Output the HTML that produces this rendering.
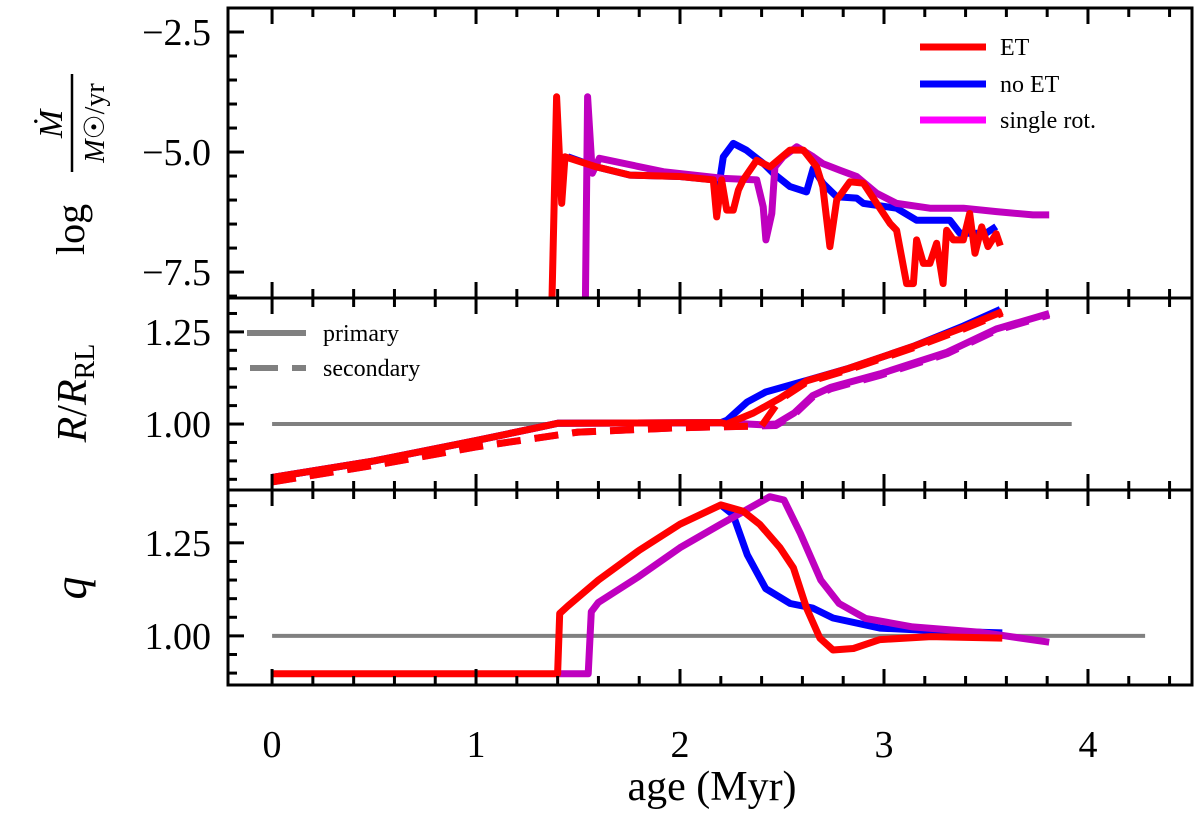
<!DOCTYPE html>
<html><head><meta charset="utf-8"><style>
body{margin:0;background:#fff}
svg text{font-family:"Liberation Serif",serif;fill:#000}
</style></head><body>
<svg id="c" width="1200" height="821" viewBox="0 0 1200 821" xmlns="http://www.w3.org/2000/svg"></svg>
<script>
// ---- data ----
const xTicks=[0,1,2,3,4];
const topTicks=[-2.5,-5.0,-7.5];
const midTicks=[1.00,1.25];
const botTicks=[1.00,1.25];
const mdotEtAge=[1.37,1.395,1.42,1.436,1.59,1.755,2.0,2.163,2.18,2.204,2.229,2.261,2.286,2.31,2.376,2.441,2.539,2.605,2.67,2.70,2.735,2.768,2.833,2.899,2.964,3.03,3.062,3.111,3.144,3.16,3.193,3.225,3.258,3.29,3.307,3.34,3.389,3.42,3.446,3.479,3.51,3.55,3.57];
const mdotEtVal=[-8.5,-3.85,-6.07,-5.10,-5.31,-5.48,-5.51,-5.58,-6.35,-5.58,-6.21,-6.21,-5.79,-5.58,-5.17,-5.31,-4.96,-4.96,-5.31,-5.72,-6.97,-6.0,-5.62,-5.65,-6.07,-6.49,-6.63,-7.74,-7.74,-6.83,-7.32,-7.32,-6.90,-7.74,-6.63,-6.83,-6.83,-6.28,-7.11,-6.56,-6.97,-6.7,-6.95];
const mdotNoEtAge=[1.45,1.59,1.755,2.0,2.17,2.19,2.212,2.261,2.325,2.41,2.457,2.539,2.62,2.653,2.70,2.768,2.866,2.899,3.062,3.16,3.323,3.372,3.5,3.55];
const mdotNoEtVal=[-5.10,-5.31,-5.48,-5.51,-5.58,-5.72,-5.10,-4.82,-4.96,-5.24,-5.44,-5.72,-5.83,-5.34,-5.65,-5.93,-5.96,-6.07,-6.17,-6.42,-6.42,-6.69,-6.69,-6.55];
const mdotSingleAge=[1.535,1.547,1.57,1.605,1.918,2.212,2.376,2.408,2.421,2.45,2.465,2.506,2.572,2.653,2.70,2.784,2.866,2.964,3.062,3.225,3.39,3.552,3.73,3.81];
const mdotSingleVal=[-8.5,-3.85,-5.44,-5.13,-5.41,-5.55,-5.58,-6.14,-6.83,-6.28,-5.31,-5.10,-4.89,-5.10,-5.24,-5.38,-5.51,-5.86,-6.07,-6.17,-6.17,-6.24,-6.31,-6.31];
const rPrimAge=[0,0.5,1.0,1.3,1.4,2.2];
const rPrimVal=[0.855,0.90,0.955,0.99,1.002,1.004];
const rSecAge=[0,0.5,1.0,1.5,2.0,2.4];
const rSecVal=[0.843,0.888,0.938,0.978,0.99,0.995];
const rEtAge=[2.23,2.36,2.49,2.62,2.82,3.14,3.39,3.58];
const rEtVal=[1.0,1.03,1.07,1.117,1.15,1.21,1.262,1.305];
const rNoEtAge=[2.2,2.23,2.33,2.42,2.62,2.82,3.14,3.39,3.57];
const rNoEtVal=[1.004,1.01,1.06,1.087,1.118,1.15,1.21,1.266,1.311];
const rSingleAge=[2.4,2.47,2.56,2.65,2.74,2.98,3.31,3.55,3.81];
const rSingleVal=[0.998,1.0,1.03,1.077,1.1,1.136,1.195,1.258,1.30];
const qEtAge=[0,1.40,1.41,1.45,1.6,1.8,2.0,2.2,2.31,2.39,2.49,2.556,2.62,2.686,2.75,2.85,2.98,3.23,3.58];
const qEtVal=[0.898,0.898,1.06,1.08,1.15,1.23,1.30,1.352,1.335,1.30,1.237,1.183,1.075,0.994,0.962,0.966,0.99,0.998,0.994];
const qNoEtAge=[2.2,2.26,2.33,2.42,2.54,2.65,2.75,2.98,3.31,3.58];
const qNoEtVal=[1.352,1.326,1.218,1.127,1.087,1.075,1.048,1.021,1.012,1.008];
const qSingleAge=[1.40,1.55,1.565,1.6,1.8,2.0,2.2,2.44,2.51,2.59,2.69,2.78,2.91,3.14,3.47,3.81];
const qSingleVal=[0.898,0.898,1.065,1.09,1.16,1.237,1.30,1.374,1.365,1.275,1.15,1.087,1.047,1.024,1.01,0.983];
const refLineEnd=[3.92,4.28];

// ---- layout ----
const L=228,R=1192,X0=-0.216,X1=4.51;
const P=[{t:8,b:298,y0:-8.04,y1:-2.0},{t:298,b:490,y0:0.821,y1:1.342},{t:490,b:685,y0:0.868,y1:1.392}];
const sx=v=>L+(v-X0)/(X1-X0)*(R-L);
const sy=(p,v)=>P[p].b-(v-P[p].y0)/(P[p].y1-P[p].y0)*(P[p].b-P[p].t);
const svg=document.getElementById('c');
const NS='http://www.w3.org/2000/svg';
function mk(tag,at,parent){const e=document.createElementNS(NS,tag);for(const k in at)e.setAttribute(k,at[k]);(parent||svg).appendChild(e);return e;}
const defs=mk('defs',{});
P.forEach((p,i)=>{const c=mk('clipPath',{id:'cp'+i},defs);mk('rect',{x:L,y:p.t,width:R-L,height:p.b-p.t},c);});
function line(p,xs,ys,color,name,dash,w){
  const d=xs.map((x,i)=>(i?'L':'M')+sx(x).toFixed(1)+','+sy(p,ys[i]).toFixed(1)).join('');
  const e=mk('path',{d:d,fill:'none',stroke:color,'stroke-width':w||7,'stroke-linejoin':'round','clip-path':'url(#cp'+p+')'});
  if(dash)e.setAttribute('stroke-dasharray',dash);
  
  
  return e;
}
const RED='#ff0000',BLUE='#0000ff',PUR='#bf00bf',GR='#808080';
line(0,mdotNoEtAge,mdotNoEtVal,BLUE,'mdot-no-et-line');
line(0,mdotSingleAge,mdotSingleVal,PUR,'mdot-single-rot-line');
line(0,mdotEtAge,mdotEtVal,RED,'mdot-et-line');
line(1,[0,refLineEnd[0]],[1,1],GR,'r-unity-line',null,4);
line(1,rSecAge.concat(rSingleAge.slice(1)),rSecVal.concat(rSingleVal.slice(1).map(v=>v-0.004)),PUR,'r-single-secondary','24 14');
line(1,rPrimAge.concat(rSingleAge),rPrimVal.concat(rSingleVal),PUR,'r-single-primary');
line(1,rPrimAge.concat(rNoEtAge),rPrimVal.concat(rNoEtVal),BLUE,'r-no-et-primary');
line(1,rSecAge.concat(rEtAge.slice(2)),rSecVal.concat(rEtVal.slice(2).map(v=>v-0.004)),RED,'r-et-secondary','24 14');
line(1,rPrimAge.concat(rEtAge),rPrimVal.concat(rEtVal),RED,'r-et-primary');
line(2,[0,refLineEnd[1]],[1,1],GR,'q-unity-line',null,4);
line(2,qNoEtAge,qNoEtVal,BLUE,'q-no-et-line');
line(2,qSingleAge,qSingleVal,PUR,'q-single-rot-line');
line(2,qEtAge,qEtVal,RED,'q-et-line');

const ax=mk('g',{stroke:'#000','stroke-width':3,fill:'none'});


P.forEach((p,i)=>{
  mk('rect',{x:L,y:p.t,width:R-L,height:p.b-p.t},ax);
  for(let k=0;k<=22;k++){const v=Math.round(k*2)/10;if(v>X1)break;const X=sx(v);const maj=(k%5===0);const len=maj?16:9;
    mk('line',{x1:X,y1:p.b,x2:X,y2:p.b-len},ax);mk('line',{x1:X,y1:p.t,x2:X,y2:p.t+len},ax);}
  const step=i===0?0.5:0.05;const majStep=i===0?2.5:0.25;
  for(let v=Math.ceil(p.y0/step)*step;v<=p.y1+1e-9;v+=step){const Y=sy(i,v);const maj=Math.abs(v/majStep-Math.round(v/majStep))<1e-6;
    mk('line',{x1:L,y1:Y,x2:L+(maj?16:9),y2:Y},ax);}
});
xTicks.forEach(v=>{const t=mk('text',{x:sx(v),y:757,'font-size':38,'text-anchor':'middle'});t.textContent=v;});
function ylab(p,arr,fmt){arr.forEach(v=>{const t=mk('text',{x:211,y:sy(p,v)+13,'font-size':38,'text-anchor':'end'});t.textContent=fmt(v);});}
ylab(0,topTicks,v=>(v<0?'\u2212':'')+Math.abs(v).toFixed(1));
ylab(1,midTicks,v=>v.toFixed(2));
ylab(2,botTicks,v=>v.toFixed(2));
</script>
<svg width="1200" height="821" style="position:absolute;left:0;top:0" xmlns="http://www.w3.org/2000/svg">
<text x="712" y="800" font-size="42" text-anchor="middle">age (Myr)</text>
<g transform="translate(72,160) rotate(-90)">
 <text x="-95" y="12" font-size="40">log</text>
 <text x="36" y="-10" font-size="34" font-style="italic" text-anchor="middle">Ṁ</text>
 <line x1="-12" y1="0" x2="86" y2="0" stroke="#000" stroke-width="2.5"/>
 <text x="37" y="32" font-size="28" text-anchor="middle"><tspan font-style="italic">M</tspan>☉/yr</text>
</g>
<text transform="translate(86,393) rotate(-90)" font-size="42" text-anchor="middle"><tspan font-style="italic">R</tspan>/<tspan font-style="italic">R</tspan><tspan font-size="28" dy="8">RL</tspan></text>
<text transform="translate(86,588) rotate(-90)" font-size="46" font-style="italic" text-anchor="middle">q</text>
<g>
 <line x1="920" y1="47" x2="986" y2="47" stroke="#ff0000" stroke-width="7"/><text x="1000" y="55" font-size="24">ET</text>
 <line x1="920" y1="84" x2="986" y2="84" stroke="#0000ff" stroke-width="7"/><text x="1000" y="92" font-size="24">no ET</text>
 <line x1="920" y1="120" x2="986" y2="120" stroke="#ff00ff" stroke-width="7"/><text x="1000" y="128" font-size="24">single rot.</text>
</g>
<g>
 <line x1="247" y1="333" x2="306" y2="333" stroke="#808080" stroke-width="6"/><text x="323" y="341" font-size="24">primary</text>
 <line x1="250" y1="368" x2="306" y2="368" stroke="#808080" stroke-width="6" stroke-dasharray="28 14"/><text x="323" y="376" font-size="24">secondary</text>
</g>
</svg>
</body></html>
